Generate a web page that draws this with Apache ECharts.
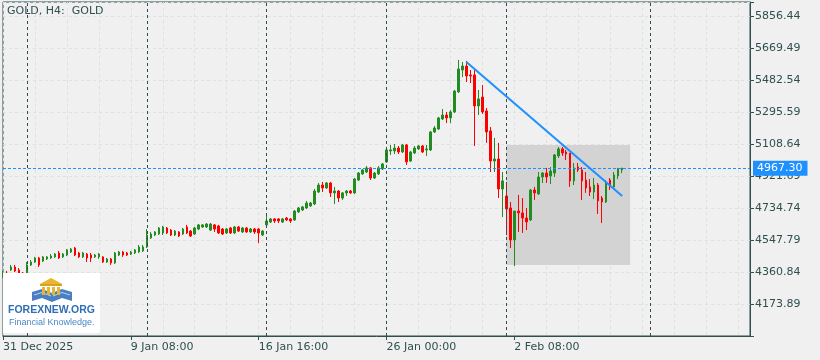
<!DOCTYPE html>
<html><head><meta charset="utf-8">
<script src="https://cdn.jsdelivr.net/npm/echarts@6/dist/echarts.min.js"></script>
<style>html,body{margin:0;padding:0;background:#f0f0f0}#c{width:820px;height:360px}</style>
</head><body><div id="c"></div>
<script>
// H4 candles, index 0 = 31 Dec 2025 00:00
const openV = [4338,4355,4373,4390,4373,4355,4355,4402,4419,4443,
4425,4437,4443,4449,4472,4449,4460,4478,4501,4472,
4449,4466,4460,4449,4449,4449,4419,4437,4414,4460,
4478,4472,4466,4472,4478,4484,4507,4560,4577,4583,
4589,4618,4606,4577,4595,4583,4624,4600,4583,4612,
4624,4624,4606,4636,4630,4612,4589,4618,4589,4624,
4595,4618,4595,4612,4612,4577,4636,4653,4671,4671,
4653,4676,4671,4665,4712,4723,4735,4747,4758,4828,
4869,4852,4881,4823,4834,4793,4823,4834,4823,4898,
4934,4945,4969,4910,4934,4963,5004,5068,5068,5085,
5062,5103,5009,5056,5080,5097,5074,5074,5179,5196,
5255,5278,5261,5296,5413,5541,5564,5512,5512,5331,
5383,5302,5185,5009,5021,4846,4805,4735,4548,4717,
4706,4676,4665,4840,4817,4916,4939,4922,4939,5039,
5080,5062,5056,4893,4974,4957,4898,4858,4828,4869,
4793,4770,4898,4858,4922,4957];
const closeV = [4355,4343,4390,4367,4355,4343,4402,4419,4443,4402,
4449,4449,4454,4466,4443,4466,4490,4495,4460,4449,
4472,4443,4443,4460,4466,4419,4437,4414,4472,4478,
4460,4460,4478,4490,4507,4507,4577,4583,4595,4618,
4624,4589,4577,4600,4571,4612,4589,4571,4618,4636,
4636,4641,4641,4612,4589,4583,4612,4589,4624,4600,
4618,4595,4612,4595,4589,4600,4659,4671,4659,4659,
4671,4665,4659,4717,4735,4741,4764,4764,4834,4869,
4852,4881,4823,4834,4793,4823,4834,4823,4904,4939,
4957,4969,4910,4939,4969,4992,5074,5074,5085,5062,
5103,5004,5062,5085,5097,5062,5080,5179,5202,5261,
5278,5261,5296,5418,5547,5564,5506,5506,5331,5372,
5296,5179,5009,5021,4846,4893,4729,4548,4717,4706,
4676,4653,4840,4823,4916,4939,4916,4951,5045,5080,
5056,5050,4893,4969,4957,4893,4852,4828,4869,4776,
4770,4881,4858,4928,4963,4967.3];
const lowV = [4326,4332,4367,4361,4349,4338,4349,4396,4414,4390,
4419,4431,4437,4443,4437,4443,4454,4472,4454,4443,
4443,4419,4419,4443,4437,4414,4414,4402,4408,4454,
4449,4454,4460,4466,4472,4478,4501,4554,4571,4577,
4577,4583,4571,4571,4565,4577,4583,4565,4577,4606,
4618,4618,4600,4595,4583,4577,4583,4583,4583,4595,
4589,4589,4589,4583,4530,4571,4630,4647,4647,4647,
4647,4659,4647,4659,4706,4717,4729,4741,4752,4823,
4828,4846,4799,4758,4770,4782,4805,4817,4817,4893,
4928,4939,4898,4904,4928,4957,4998,5045,5050,5050,
5056,4986,5004,5050,5074,5056,5039,5068,5173,5191,
5249,5231,5231,5290,5407,5500,5471,5465,5097,5278,
5284,5115,4945,4945,4793,4682,4577,4501,4396,4595,
4589,4606,4659,4782,4811,4881,4881,4875,4916,5027,
5039,5015,4858,4869,4945,4782,4823,4805,4787,4700,
4647,4764,4840,4846,4904,4939];
const highV = [4367,4367,4402,4402,4384,4361,4419,4431,4449,4449,
4454,4454,4466,4472,4484,4472,4495,4501,4507,4478,
4478,4472,4472,4466,4472,4454,4443,4443,4478,4484,
4484,4478,4484,4495,4519,4519,4612,4595,4600,4624,
4630,4624,4612,4606,4600,4618,4636,4606,4624,4641,
4641,4647,4647,4641,4636,4618,4618,4624,4630,4630,
4624,4624,4618,4618,4618,4606,4688,4676,4676,4676,
4676,4682,4676,4723,4741,4747,4776,4770,4846,4881,
4887,4887,4887,4858,4840,4828,4840,4840,4910,4945,
4963,4980,4974,4945,4980,4998,5085,5103,5109,5097,
5109,5109,5068,5097,5103,5103,5103,5185,5214,5267,
5313,5296,5307,5424,5600,5588,5594,5541,5541,5424,
5453,5319,5208,5144,5115,4945,4887,4770,4717,4811,
4793,4735,4846,4858,4945,4945,4969,4974,5050,5091,
5091,5074,5056,4998,4998,4974,4945,4904,4910,4881,
4805,4898,4910,4945,4969,4969];

const slotCount = 188;                       // bar slots across the plot (incl. right shift)
const tickLabels = [[0,'31 Dec 2025'],[32,'9 Jan 08:00'],[64,'16 Jan 16:00'],[96,'26 Jan 00:00'],[128,'2 Feb 08:00']];
const separators = [6,36,66,96,126,162];     // weekly period separators
const lastPrice = 4967.30;
const trendFrom = [116, 5588];
const trendTo = [155, 4805];
const zoneX = [126, 157];
const zoneY = [5103, 4402];
const yMin = 3986.94, yMax = 5938.23, yStep = 186.95;

const FG = '#2f4f4f';
const FONT = 'DejaVu Sans';
const categories = [];
for (let i = 0; i < slotCount; i++) categories.push(String(i));
const labelMap = {};
tickLabels.forEach(([i, t]) => labelMap[i] = t);
const candles = openV.map((o, i) => [o, closeV[i], lowV[i], highV[i]]);

const chart = echarts.init(document.getElementById('c'), null, {renderer: 'canvas'});
chart.setOption({
  animation: false,
  backgroundColor: '#f0f0f0',
  title: {
    text: 'GOLD, H4:  GOLD', left: 7, top: 6, padding: 0,
    textStyle: {fontSize: 11, fontWeight: 'normal', color: FG, fontFamily: FONT}
  },
  grid: {left: 2.5, right: 70, top: 2, bottom: 24, show: true, borderColor: FG, borderWidth: 1, backgroundColor: 'transparent'},
  xAxis: {
    type: 'category', data: categories, boundaryGap: false,
    axisLine: {show: true, lineStyle: {color: FG}},
    axisTick: {show: true, length: 4, interval: (i) => labelMap[i] !== undefined, lineStyle: {color: FG}},
    axisLabel: {
      interval: (i) => labelMap[i] !== undefined,
      formatter: (v) => labelMap[+v] || '',
      align: 'left', margin: 6, color: FG, fontSize: 11, fontFamily: FONT
    },
    splitLine: {show: true, interval: (i) => i % 8 === 0, lineStyle: {color: '#e0e0e0', type: [3, 3], width: 1}}
  },
  yAxis: {
    type: 'value', position: 'right', min: yMin, max: yMax, interval: yStep, scale: true,
    axisLine: {show: true, lineStyle: {color: FG}},
    axisTick: {show: true, length: 4, lineStyle: {color: FG}},
    axisLabel: {
      formatter: (v) => (v < 4100 || v > 5900) ? '' : v.toFixed(2),
      margin: 5, color: FG, fontSize: 11, fontFamily: FONT
    },
    splitLine: {show: true, lineStyle: {color: '#e0e0e0', type: [3, 3], width: 1}}
  },
  series: [
    {
      type: 'line', data: [], z: -1, silent: true,
      markArea: {
        silent: true,
        itemStyle: {color: '#d3d3d3', opacity: 1},
        data: [[{coord: [zoneX[0], zoneY[0]]}, {coord: [zoneX[1], zoneY[1]]}]]
      }
    },
    {
      type: 'line', data: [], z: 1, silent: true,
      markLine: {
        silent: true, symbol: ['none', 'none'], animation: false,
        data: separators.map(i => ({xAxis: i, lineStyle: {color: FG, type: [3, 3], width: 1}, label: {show: false}}))
          .concat([{
            yAxis: lastPrice,
            lineStyle: {color: '#1e90ff', type: [3, 2], width: 1},
            label: {
              show: true, position: 'end', distance: 3,
              formatter: lastPrice.toFixed(2),
              backgroundColor: '#1e90ff', color: '#ffffff',
              padding: [2, 5, 1, 4], fontSize: 11, fontFamily: FONT, lineHeight: 12
            }
          }])
      }
    },
    {
      type: 'candlestick', data: candles, barWidth: 2, z: 2,
      itemStyle: {color: '#228b22', color0: '#ff0000', borderColor: '#228b22', borderColor0: '#ff0000', borderWidth: 1}
    },
    {
      type: 'line', data: [], z: 5, silent: true,
      markLine: {
        silent: true, symbol: ['none', 'none'],
        lineStyle: {color: '#1e90ff', width: 2, type: 'solid'},
        label: {show: false},
        data: [[{coord: trendFrom}, {coord: trendTo}]]
      }
    }
  ],
  graphic: [
    {type: 'rect', z: 100, shape: {x: 3, y: 273, width: 97, height: 60}, style: {fill: '#ffffff'}},
    // book
    {type: 'polygon', z: 101, shape: {points: [[32,292],[42,289],[52,293],[52,302],[42,298],[32,301]]}, style: {fill: '#4a7fc4'}},
    {type: 'polygon', z: 101, shape: {points: [[72,292],[62,289],[52,293],[52,302],[62,298],[72,301]]}, style: {fill: '#4a7fc4'}},
    {type: 'polyline', z: 102, shape: {points: [[34,295],[42,292.5],[51,296]]}, style: {stroke: '#bcd3ee', lineWidth: 1, fill: null}},
    {type: 'polyline', z: 102, shape: {points: [[70,295],[62,292.5],[53,296]]}, style: {stroke: '#bcd3ee', lineWidth: 1, fill: null}},
    // building
    {type: 'polygon', z: 103, shape: {points: [[40,284],[51,278],[62,284]]}, style: {fill: '#e8b52e'}},
    {type: 'rect', z: 103, shape: {x: 40, y: 284, width: 22, height: 2}, style: {fill: '#d9a21e'}},
    {type: 'rect', z: 103, shape: {x: 42, y: 287, width: 3, height: 8}, style: {fill: '#e8b52e'}},
    {type: 'rect', z: 103, shape: {x: 47, y: 287, width: 3, height: 8}, style: {fill: '#e8b52e'}},
    {type: 'rect', z: 103, shape: {x: 52, y: 287, width: 3, height: 8}, style: {fill: '#e8b52e'}},
    {type: 'rect', z: 103, shape: {x: 57, y: 287, width: 3, height: 8}, style: {fill: '#e8b52e'}},
    {type: 'text', z: 104, style: {text: 'FOREXNEW.ORG', x: 8, y: 310, verticalAlign: 'middle', fill: '#2f6db5', font: 'bold 10.5px "Liberation Sans"'}},
    {type: 'text', z: 104, style: {text: 'Financial Knowledge.', x: 9, y: 323, verticalAlign: 'middle', fill: '#4a86c8', font: '9px "Liberation Sans"'}}
  ]
});
</script></body></html>
